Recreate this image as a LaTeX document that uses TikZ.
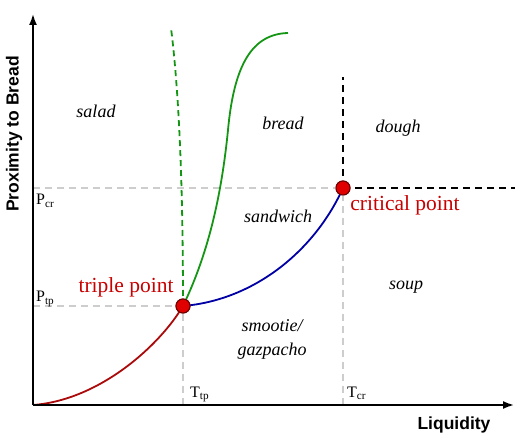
\documentclass[tikz,border=0pt]{standalone}
\usepackage{fontspec}
\setmainfont{Liberation Serif}
\setsansfont{Liberation Sans}
\usetikzlibrary{arrows.meta}
\definecolor{cred}{RGB}{170,10,10}
\definecolor{cblue}{RGB}{0,0,165}
\definecolor{cgreen}{RGB}{20,150,20}
\definecolor{ctext}{RGB}{200,0,0}
\definecolor{cgrey}{RGB}{205,205,205}
\definecolor{cdot}{RGB}{225,0,0}
\definecolor{cdotb}{RGB}{110,0,0}
\tikzset{
  axis/.style={line width=1.8pt,-{Latex[length=11pt,width=8pt]}},
  guide/.style={cgrey,line width=1.2pt,dash pattern=on 7pt off 5pt},
  bound/.style={black,line width=1.3pt,dash pattern=on 7pt off 5pt},
  phase/.style={font=\fontsize{18}{24}\selectfont\itshape},
  ptlabel/.style={ctext,font=\fontsize{21.5}{24}\selectfont},
  tick/.style={font=\fontsize{16}{18}\selectfont,anchor=base west,inner sep=0pt},
  axlabel/.style={font=\fontsize{17.5}{20}\selectfont\sffamily\bfseries},
  pdot/.style={circle,fill=cdot,draw=cdotb,line width=1pt,minimum size=14pt,inner sep=0pt},
}
\begin{document}
\begin{tikzpicture}[x=1pt,y=-1pt]
\useasboundingbox (0,0) rectangle (530,443);
% anchor coordinates
\coordinate (o) at (33,405);
\coordinate (ytop) at (33,14);
\coordinate (xend) at (514,405);
\coordinate (tpx) at (183,405);
\coordinate (cpx) at (343,405);
\coordinate (tpy) at (33,306);
\coordinate (cpy) at (33,188);
\coordinate (cptop) at (343,77);
\coordinate (cpright) at (515,188);
\coordinate (gdtop) at (171,28);
\coordinate (gstop) at (288,33);
% positions of points
\node[pdot] (tp) at (183,306) {};
\node[pdot] (cp) at (343,188) {};
% guides
\draw[guide] (cpy) -- (cp.center);
\draw[guide] (tpy) -- (tp.center);
\draw[guide] (tpx) -- (tp.center);
\draw[guide] (cpx) -- (cp.center);
% boundaries
\draw[bound] (cp.center) -- (cptop);
\draw[bound] (cp.center) -- (cpright);
% curves
\draw[cred,line width=1.8pt] (o) .. controls (100,400) and (160,345) .. (tp.center);
\draw[cblue,line width=1.8pt] (tp.center) .. controls (255,300) and (315,250) .. (cp.center);
\draw[cgreen,line width=1.8pt] (tp.center) .. controls (210,250) and (222,190) .. (228,130) .. controls (234,65) and (252,34) .. (gstop);
\draw[cgreen,line width=1.8pt,dash pattern=on 6pt off 4pt] (tp.center) .. controls (183,200) and (180,100) .. (gdtop);
% redraw dots on top
\node[pdot] at (tp) {};
\node[pdot] at (cp) {};
% axes
\draw[axis] (o) -- (ytop);
\draw[axis] (o) -- (xend);
% labels
\node[phase] (salad) at (96,111) {salad};
\node[phase] (bread) at (283,123) {bread};
\node[phase] (dough) at (398,128) {dough};
\node[phase] (sandwich) at (278,216) {sandwich};
\node[phase] (soup) at (406,287) {soup};
\node[phase,align=center] (smoothie) at (272,339) {smootie/\\gazpacho};
\node[ptlabel] (tplab) at (126,287) {triple point};
\node[ptlabel] (cplab) at (405,205) {critical point};
\node[tick] (pcr) at (36,205) {P\textsubscript{cr}};
\node[tick] (ptp) at (36,302) {P\textsubscript{tp}};
\node[tick] (ttp) at (190,397) {T\textsubscript{tp}};
\node[tick] (tcr) at (347,397) {T\textsubscript{cr}};
\node[axlabel] (xl) at (454,425) {Liquidity};
\node[axlabel,rotate=90] (yl) at (14,134) {Proximity to Bread};
\end{tikzpicture}
\end{document}
